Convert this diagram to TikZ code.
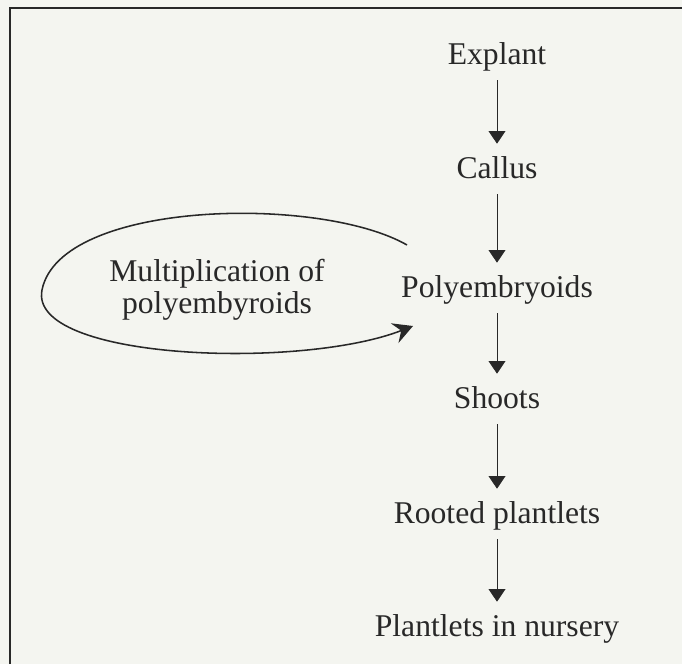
\documentclass[tikz,border=0pt]{standalone}
\usepackage{fontspec}
\setmainfont{Liberation Serif}
\usetikzlibrary{arrows.meta, positioning}

\definecolor{paper}{RGB}{244,245,240}
\definecolor{ink}{RGB}{40,40,40}

\begin{document}
\begin{tikzpicture}[x=0.025cm, y=-0.025cm, >=Stealth,
      stage/.style={inner sep=0pt, anchor=base, text height=0.85cm, text depth=0.4cm,
                    font=\fontsize{22.5}{23}\selectfont, text=ink},
      note/.style={align=center, inner sep=0pt,
                   font=\fontsize{22.5}{23}\selectfont, text=ink},
      arr/.style={-{Triangle[width=12pt,length=9pt]}, line width=0.6pt, draw=ink},
      backarr/.style={-{Stealth[length=14pt,width=15pt,inset=5pt]}, line width=1.1pt, draw=ink}]

    \def\cx{497}  % column centre

    % page and frame
    \fill[paper] (0,0) rectangle (682,664);
    \useasboundingbox (0,0) rectangle (682,664);
    \draw[ink, line width=0.8pt] (10,664) -- (10,8) -- (682,8);

    % Stages, one below the other
    \node[stage] (expl)  at (\cx, 64)  {Explant};
    \node[stage] (call)  at (\cx, 178) {Callus};
    \node[stage] (poly)  at (\cx, 297) {Polyembryoids};
    \node[stage] (shoot) at (\cx, 408) {Shoots};
    \node[stage] (root)  at (\cx, 523) {Rooted plantlets};
    \node[stage] (nurs)  at (\cx, 636) {Plantlets in nursery};

    % Main arrows
    \draw[arr] (expl)  -- (call);
    \draw[arr] (call)  -- (poly);
    \draw[arr] (poly)  -- (shoot);
    \draw[arr] (shoot) -- (root);
    \draw[arr] (root)  -- (nurs);

    % Multiplication loop
    \node[note] (mult) at (217, 290) {Multiplication of\\polyembyroids};
    \coordinate (loopout) at (407, 245);
    \coordinate (loopin)  at (413, 326);
    \draw[backarr] (loopout) .. controls (320,195) and (60,200) .. (42,290)
                   .. controls (28,360) and (300,370) .. (loopin);

\end{tikzpicture}
\end{document}
